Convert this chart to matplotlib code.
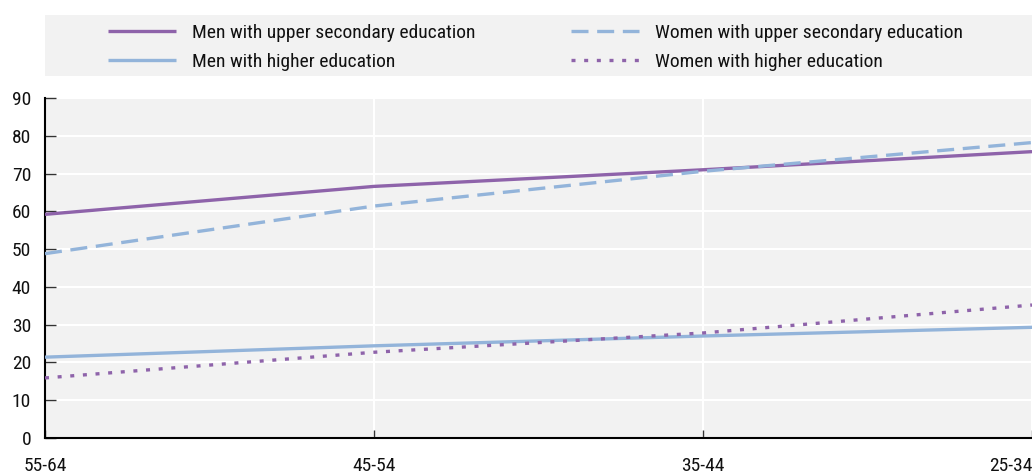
import matplotlib
matplotlib.use("Agg")
import matplotlib.pyplot as plt
from matplotlib.patches import Rectangle

plt.rcParams['font.family'] = ['Roboto Condensed', 'Liberation Sans', 'DejaVu Sans']

age_groups = ["55-64", "45-54", "35-44", "25-34"]
men_upper_secondary = [59.2, 66.6, 71.0, 75.8]
women_upper_secondary = [48.8, 61.4, 70.6, 78.2]
men_higher = [21.4, 24.4, 27.0, 29.3]
women_higher = [15.9, 22.7, 27.8, 35.2]

PURPLE = "#8E63AA"
BLUE = "#93B4DA"
PANEL = "#F2F2F2"
FS = 14
LW = 2.4

W, H = 1032, 476
fig = plt.figure(figsize=(W / 100, H / 100), dpi=100)

ax = fig.add_axes([45 / W, 1 - 438 / H, 987 / W, 340 / H])
ax.set_facecolor(PANEL)

x = list(range(len(age_groups)))
series = [
    ("Men with upper secondary education", men_upper_secondary, PURPLE, "-"),
    ("Women with upper secondary education", women_upper_secondary, BLUE, (0, (5.1, 2.6))),
    ("Men with higher education", men_higher, BLUE, "-"),
    ("Women with higher education", women_higher, PURPLE, (0, (1.2, 2.6))),
]
handles = {}
for label, vals, color, ls in series:
    (ln,) = ax.plot(x, vals, color=color, linestyle=ls, linewidth=LW,
                    solid_capstyle="butt", dash_capstyle="butt", zorder=3)
    handles[label] = ln

ax.set_xlim(0, 3)
ax.set_ylim(0, 90)
ax.set_yticks(range(0, 91, 10))
ax.set_xticks(x)
ax.set_xticklabels(age_groups)
# keep the last category label inside the figure
ax.get_xticklabels()[-1].set_horizontalalignment("right")

ax.grid(True, color="white", linewidth=1.5, zorder=1)
ax.set_axisbelow(True)
for s in ("top", "right"):
    ax.spines[s].set_visible(False)
for s in ("left", "bottom"):
    ax.spines[s].set_color("black")
    ax.spines[s].set_linewidth(1.5)
ax.tick_params(axis="y", direction="in", length=8, width=1, color="#333333",
               pad=10, labelsize=FS, labelcolor="#111111")
ax.tick_params(axis="x", direction="in", length=6, width=1, color="#333333",
               pad=14, labelsize=FS, labelcolor="#111111")

# legend panel
fig.patches.append(Rectangle((45 / W, 1 - 76 / H), (W - 45) / W, 61 / H,
                             transform=fig.transFigure, facecolor=PANEL,
                             edgecolor="none", zorder=0))

def make_legend(labels, x_px):
    hs = [handles[l] for l in labels]
    return fig.legend(hs, labels, loc="upper left",
                      bbox_to_anchor=(x_px / W, 1 - 24 / H),
                      frameon=False, fontsize=FS, handlelength=3.5,
                      handletextpad=0.82, labelspacing=0.58, borderpad=0,
                      borderaxespad=0, labelcolor="#111111")

make_legend(["Men with upper secondary education", "Men with higher education"], 108)
make_legend(["Women with upper secondary education", "Women with higher education"], 571)

fig.savefig("out.png", dpi=100)
